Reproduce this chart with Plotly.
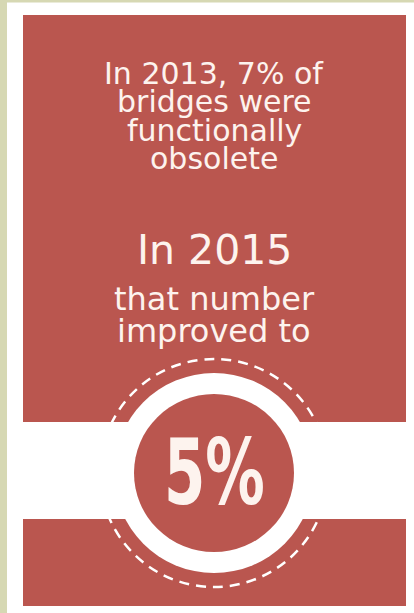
import plotly.graph_objects as go

# the numbers behind the graphic
years = [2013, 2015]
pct_obsolete = [7, 5]

# text lines (first block, second block)
intro_lines = [f"In {years[0]}, {pct_obsolete[0]}% of", "bridges were", "functionally", "obsolete"]
intro_y = [73, 101, 130, 158]
outro_lines = [f"In {years[1]}", "that number", "improved to"]
outro_y = [250, 299, 331]
outro_size = [41, 32, 32]

red = "#BA564F"
cream = "#FDF3EE"
W, H = 414, 613
cx, cy = 214, 473
txt_font = "DejaVu Sans"

fig = go.Figure()

# invisible trace so the axes exist
fig.add_trace(go.Scatter(x=[0, W], y=[0, H], mode="markers", marker=dict(opacity=0),
                         hoverinfo="skip", showlegend=False))

shapes = [
    # beige frame strips
    dict(type="rect", x0=0, x1=7, y0=0, y1=H, fillcolor="#D6D8B3", line_width=0),
    dict(type="rect", x0=0, x1=W, y0=0, y1=2.5, fillcolor="#D6D8B3", line_width=0),
    # red panels
    dict(type="rect", x0=23, x1=406, y0=15, y1=422, fillcolor=red, line_width=0),
    dict(type="rect", x0=23, x1=406, y0=519, y1=606, fillcolor=red, line_width=0),
    # badge
    dict(type="circle", x0=cx - 100, x1=cx + 100, y0=cy - 100, y1=cy + 100, fillcolor="white", line_width=0),
    dict(type="circle", x0=cx - 80, x1=cx + 80, y0=cy - 79, y1=cy + 79, fillcolor=red, line_width=0),
    dict(type="circle", x0=cx - 114, x1=cx + 114, y0=cy - 114, y1=cy + 114,
         line=dict(color="white", width=2.5, dash="10px,7px")),
]
fig.update_layout(shapes=shapes)

annotations = []
for txt, y in zip(intro_lines, intro_y):
    annotations.append(dict(x=cx, y=y, text=txt, showarrow=False, xanchor="center", yanchor="middle",
                            font=dict(family=txt_font, size=30, color=cream)))
for txt, y, s in zip(outro_lines, outro_y, outro_size):
    annotations.append(dict(x=cx, y=y, text=txt, showarrow=False, xanchor="center", yanchor="middle",
                            font=dict(family=txt_font, size=s, color=cream)))
annotations.append(dict(x=cx, y=cy - 1, text=f"<b>{pct_obsolete[1]}%</b>", showarrow=False,
                        xanchor="center", yanchor="middle", name="big",
                        font=dict(family="DejaVu Sans", size=90, color=cream)))
fig.update_layout(annotations=annotations)

fig.update_xaxes(range=[0, W], visible=False, fixedrange=True)
fig.update_yaxes(range=[H, 0], visible=False, fixedrange=True)
fig.update_layout(width=W, height=H, margin=dict(l=0, r=0, t=0, b=0),
                  paper_bgcolor="white", plot_bgcolor="white", showlegend=False)

# no page margin; squeeze the big number into a condensed look
js = """
document.body.style.margin = '0';
document.querySelectorAll('.annotation-text').forEach(function (t) {
    var s = t.textContent.trim();
    if (s.length <= 3 && s.indexOf('%') >= 0) {
        var b = t.getBBox();
        var c = b.x + b.width / 2;
        t.setAttribute('transform', 'translate(' + c + ',0) scale(0.66,1) translate(' + (-c) + ',0)');
    }
});
"""
fig.write_html("out.html", config={"displayModeBar": False}, post_script=js)
